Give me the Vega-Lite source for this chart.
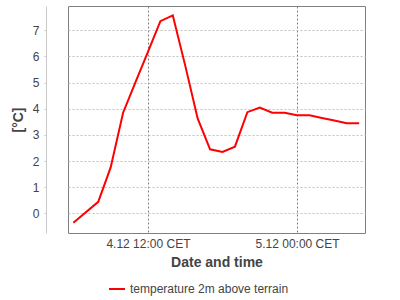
{
  "$schema": "https://vega.github.io/schema/vega-lite/v6.json",
  "width": 297,
  "height": 227,
  "autosize": {"type": "none"},
  "padding": {"left": 68, "top": 6, "right": 35, "bottom": 67},
  "config": {
    "view": {"stroke": "#808080", "strokeWidth": 1},
    "font": "Liberation Sans"
  },
  "data": {
    "values": [
      {"time": "2012-12-04T06:00:00Z", "temp": -0.36, "series": "temperature 2m above terrain"},
      {"time": "2012-12-04T08:00:00Z", "temp": 0.44, "series": "temperature 2m above terrain"},
      {"time": "2012-12-04T09:00:00Z", "temp": 1.76, "series": "temperature 2m above terrain"},
      {"time": "2012-12-04T10:00:00Z", "temp": 3.85, "series": "temperature 2m above terrain"},
      {"time": "2012-12-04T11:00:00Z", "temp": 5.02, "series": "temperature 2m above terrain"},
      {"time": "2012-12-04T12:00:00Z", "temp": 6.18, "series": "temperature 2m above terrain"},
      {"time": "2012-12-04T13:00:00Z", "temp": 7.35, "series": "temperature 2m above terrain"},
      {"time": "2012-12-04T14:00:00Z", "temp": 7.57, "series": "temperature 2m above terrain"},
      {"time": "2012-12-04T15:00:00Z", "temp": 5.65, "series": "temperature 2m above terrain"},
      {"time": "2012-12-04T16:00:00Z", "temp": 3.63, "series": "temperature 2m above terrain"},
      {"time": "2012-12-04T17:00:00Z", "temp": 2.45, "series": "temperature 2m above terrain"},
      {"time": "2012-12-04T18:00:00Z", "temp": 2.35, "series": "temperature 2m above terrain"},
      {"time": "2012-12-04T19:00:00Z", "temp": 2.55, "series": "temperature 2m above terrain"},
      {"time": "2012-12-04T20:00:00Z", "temp": 3.87, "series": "temperature 2m above terrain"},
      {"time": "2012-12-04T21:00:00Z", "temp": 4.05, "series": "temperature 2m above terrain"},
      {"time": "2012-12-04T22:00:00Z", "temp": 3.85, "series": "temperature 2m above terrain"},
      {"time": "2012-12-04T23:00:00Z", "temp": 3.85, "series": "temperature 2m above terrain"},
      {"time": "2012-12-05T00:00:00Z", "temp": 3.75, "series": "temperature 2m above terrain"},
      {"time": "2012-12-05T01:00:00Z", "temp": 3.75, "series": "temperature 2m above terrain"},
      {"time": "2012-12-05T02:00:00Z", "temp": 3.65, "series": "temperature 2m above terrain"},
      {"time": "2012-12-05T03:00:00Z", "temp": 3.55, "series": "temperature 2m above terrain"},
      {"time": "2012-12-05T04:00:00Z", "temp": 3.45, "series": "temperature 2m above terrain"},
      {"time": "2012-12-05T05:00:00Z", "temp": 3.45, "series": "temperature 2m above terrain"}
    ]
  },
  "mark": {"type": "line", "strokeWidth": 2, "clip": true},
  "encoding": {
    "x": {
      "field": "time",
      "type": "temporal",
      "scale": {
        "type": "utc",
        "domain": [
          {"year": 2012, "month": 12, "date": 4, "hours": 5, "minutes": 34, "utc": true},
          {"year": 2012, "month": 12, "date": 5, "hours": 5, "minutes": 28, "utc": true}
        ]
      },
      "axis": {
        "title": "Date and time",
        "titleFont": "Liberation Sans",
        "titleFontSize": 14,
        "titleFontWeight": "bold",
        "titleColor": "#444444",
        "titlePadding": 6,
        "values": [
          {"year": 2012, "month": 12, "date": 4, "hours": 12, "utc": true},
          {"year": 2012, "month": 12, "date": 5, "hours": 0, "utc": true}
        ],
        "labelExpr": "utcFormat(datum.value, '%-d.%m %H:%M') + ' CET'",
        "labelFontSize": 12,
        "labelColor": "#444444",
        "labelPadding": 5,
        "ticks": false,
        "domain": false,
        "grid": true,
        "gridColor": "#808080",
        "gridDash": [2, 2],
        "gridWidth": 1
      }
    },
    "y": {
      "field": "temp",
      "type": "quantitative",
      "scale": {"domain": [-0.75, 7.93], "nice": false, "zero": false},
      "axis": {
        "title": "[°C]",
        "titleFontSize": 14,
        "titleFontWeight": "bold",
        "titleColor": "#444444",
        "titlePadding": 7,
        "values": [0, 1, 2, 3, 4, 5, 6, 7],
        "format": "d",
        "labelFontSize": 12,
        "labelColor": "#444444",
        "labelPadding": 5,
        "offset": 22,
        "domainColor": "#c8c8c8",
        "tickColor": "#c8c8c8",
        "tickSize": 2,
        "grid": true,
        "gridColor": "#c0c0c0",
        "gridDash": [2, 2],
        "gridWidth": 1
      }
    },
    "color": {
      "field": "series",
      "type": "nominal",
      "scale": {"range": ["#ff0000"]},
      "legend": {
        "title": null,
        "orient": "none",
        "legendX": 40,
        "legendY": 274,
        "symbolType": "stroke",
        "symbolStrokeWidth": 2,
        "symbolSize": 256,
        "labelFontSize": 12,
        "labelColor": "#444444",
        "labelOffset": 4
      }
    }
  }
}
